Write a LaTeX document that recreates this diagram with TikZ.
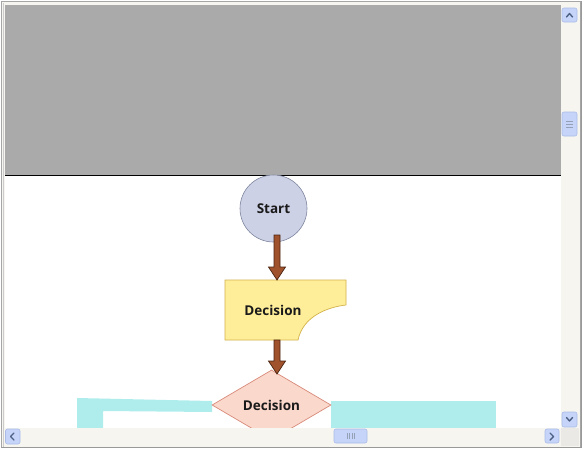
\documentclass[tikz,border=0pt]{standalone}
\usepackage{fontspec}
\setmainfont{Open Sans}
\usetikzlibrary{shapes.geometric,calc}
\definecolor{topgray}{HTML}{AAAAAA}
\definecolor{circfill}{HTML}{CDD1E6}
\definecolor{circdraw}{HTML}{7F879F}
\definecolor{docfill}{HTML}{FFEE99}
\definecolor{docdraw}{HTML}{D2B24A}
\definecolor{diafill}{HTML}{FAD8CC}
\definecolor{diadraw}{HTML}{D98A7A}
\definecolor{cyanfill}{HTML}{AFEDED}
\definecolor{arrfill}{HTML}{A0522D}
\definecolor{arrdraw}{HTML}{4A2410}
\definecolor{sbback}{HTML}{F6F5F0}
\definecolor{btnfill}{HTML}{C6D4FA}
\definecolor{btndraw}{HTML}{A9BBE6}
\definecolor{glyph}{HTML}{4D6185}
\definecolor{txt}{HTML}{1A1A1A}
\tikzset{
  x=1pt, y=-1pt,
  lbl/.style={font=\bfseries\fontsize{13.5}{15}\selectfont, text=txt},
  fatarrow/.style={fill=arrfill, draw=arrdraw, line width=0.7pt, line join=miter},
  btn/.style={fill=btnfill, draw=btndraw, line width=0.6pt, rounded corners=2pt},
  glyphline/.style={draw=glyph, line width=1.4pt, line cap=round, line join=round},
}
\newcommand\fatarr[2]{%
  \draw[fatarrow] let \p1=(#1), \p2=(#2) in
    (\x1-3pt,\y1) -- (\x1-3pt,\y2+13pt) -- (\x1-8.5pt,\y2+13pt) -- (\x1,\y2)
    -- (\x1+8.5pt,\y2+13pt) -- (\x1+3pt,\y2+13pt) -- (\x1+3pt,\y1) -- cycle;}
\begin{document}
\begin{tikzpicture}
\useasboundingbox (0,0) rectangle (583,450);
% window frame
\fill[white] (0,0) rectangle (583,450);
\fill[sbback] (1,1) rectangle (580,447);
\draw[gray!70, line width=0.8pt] (1.5,1.5) rectangle (580,447);
\draw[gray!40, line width=1pt] (3,3) -- (3,447);
% content
\begin{scope}
\clip (5,5) rectangle (561,428);
\fill[white] (5,5) rectangle (561,428);
\fill[topgray] (5,5) rectangle (561,175.5);
\draw[black, line width=1pt] (5,175.5) -- (561,175.5);
% cyan shapes
\fill[cyanfill] (77,398) -- (212,401) -- (212,412) -- (103,411) -- (103,440) -- (77,440) -- cycle;
\fill[cyanfill] (331,401) rectangle (496,440);
% start
\node[circle, minimum size=67, inner sep=0, fill=circfill, draw=circdraw, line width=0.6pt, lbl] (start) at (273.5,208.5) {Start};
% decision document
\draw[fill=docfill, draw=docdraw, line width=0.7pt] (225,280) -- (346,280) -- (346,305)
   .. controls (328,307) and (303,316) .. (298,340) -- (225,340) -- cycle;
\node[lbl] (doc) at (273,310) {Decision};
\coordinate (doctop) at (277,280);
\coordinate (docbot) at (277,340);
% diamond
\node[diamond, minimum width=119, minimum height=70, inner sep=0, aspect=1.7, fill=diafill, draw=diadraw, line width=0.7pt] (dia) at (271.5,405) {};
\node[lbl] (dialbl) at (dia.center) {Decision};
% arrows
\coordinate (a1s) at (277,235);
\coordinate (a2t) at (277,374);
\fatarr{a1s}{doctop}
\fatarr{docbot}{a2t}
\end{scope}
% vertical scrollbar
\fill[sbback] (561,5) rectangle (579,428);
\draw[btn] (562,8) rectangle (577,22);
\draw[glyphline] (566.5,17) -- (569.5,13.5) -- (572.5,17);
\draw[btn] (562,112) rectangle (577,136);
\foreach \yy in {121,124,127} \draw[glyph!60, line width=0.6pt] (566,\yy) -- (573,\yy);
\draw[btn] (562,412) rectangle (577,427);
\draw[glyphline] (566.5,417.5) -- (569.5,421) -- (572.5,417.5);
% horizontal scrollbar
\fill[sbback] (5,428) rectangle (561,446);
\draw[btn] (5.5,429) rectangle (20,444);
\draw[glyphline] (14,433) -- (10.5,436.5) -- (14,440);
\draw[btn] (334,429) rectangle (367,443);
\foreach \xx in {347,349.5,352,354.5} \draw[glyph!60, line width=0.6pt] (\xx,433) -- (\xx,439);
\draw[btn] (545,429) rectangle (559,443);
\draw[glyphline] (550,433) -- (553.5,436.5) -- (550,440);
\fill[sbback!90!gray] (561,428) rectangle (579,446);
\draw[gray!80, line width=1pt] (1,447) -- (581,447) -- (581,1);
\end{tikzpicture}
\end{document}
